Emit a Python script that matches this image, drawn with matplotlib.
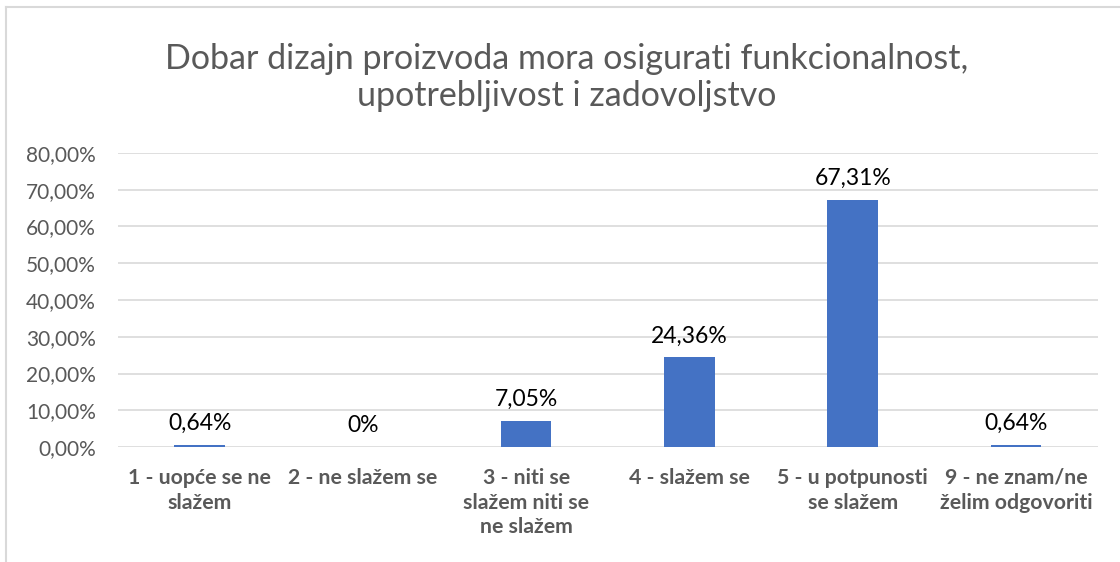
import matplotlib
matplotlib.use("Agg")
import matplotlib.pyplot as plt
from matplotlib.lines import Line2D
import numpy as np

plt.rcParams['font.family'] = ['Lato', 'DejaVu Sans']

categories = ["1 - uopće se ne\nslažem", "2 - ne slažem se", "3 - niti se\nslažem niti se\nne slažem",
              "4 - slažem se", "5 - u potpunosti\nse slažem", "9 - ne znam/ne\nželim odgovoriti"]
values = [0.0064, 0.0, 0.0705, 0.2436, 0.6731, 0.0064]
value_labels = ["0,64%", "0%", "7,05%", "24,36%", "67,31%", "0,64%"]
yticks = [0.0, 0.1, 0.2, 0.3, 0.4, 0.5, 0.6, 0.7, 0.8]

fig = plt.figure(figsize=(11.2, 5.62), dpi=100)
ax = fig.add_axes([0.1054, 0.2046, 0.8746, 0.5232])

x = np.arange(len(categories))
ax.bar(x, values, width=0.31, color='#4472C4', zorder=3)
for xi, v, lab in zip(x, values, value_labels):
    ax.annotate(lab, xy=(xi, v), xytext=(0, 8), textcoords='offset points',
                ha='center', va='bottom', fontsize=16.5, color='black')

ax.set_xlim(-0.5, len(categories) - 0.5)
ax.set_ylim(0, 0.8)
ax.set_yticks(yticks)
ax.set_yticklabels([("%.2f%%" % (t * 100)).replace('.', ',') for t in yticks],
                   fontsize=15, color='#595959')
ax.set_xticks(x)
ax.set_xticklabels(categories, fontsize=15.3, fontweight='bold', color='#595959', linespacing=1.3)
ax.tick_params(axis='x', length=0, pad=15)
ax.tick_params(axis='y', length=0, pad=16)
ax.grid(axis='y', color='#D9D9D9', linewidth=1.2, zorder=0)
for s in ax.spines.values():
    s.set_visible(False)

fig.text(0.506, 0.80, "Dobar dizajn proizvoda mora osigurati funkcionalnost,\nupotrebljivost i zadovoljstvo",
         ha='center', va='bottom', fontsize=24.5, color='#595959', linespacing=1.2)

# chart border
fig.add_artist(Line2D([6 / 1120, 6 / 1120], [0, 1 - 7 / 562], color='#D9D9D9', linewidth=1.5))
fig.add_artist(Line2D([6 / 1120, 1], [1 - 7 / 562, 1 - 7 / 562], color='#D9D9D9', linewidth=1.5))

fig.savefig("out.png", dpi=100)
